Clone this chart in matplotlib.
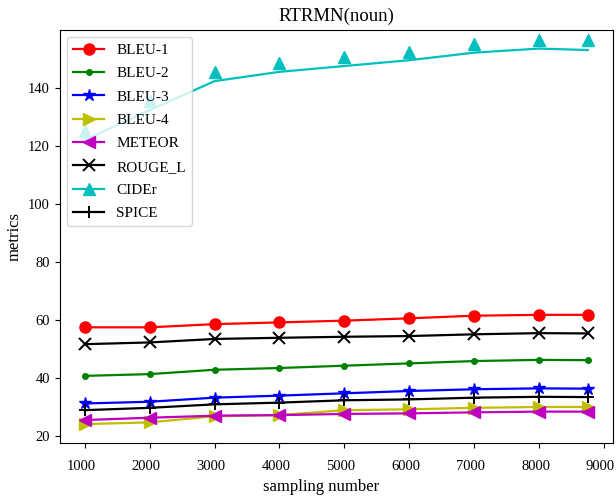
import matplotlib
matplotlib.use("Agg")
import matplotlib.pyplot as plt
import matplotlib.transforms as mtransforms
from matplotlib.lines import Line2D

plt.rcParams['font.family'] = ['Liberation Serif', 'DejaVu Serif']

# sampling numbers
x = [1000, 2000, 3000, 4000, 5000, 6000, 7000, 8000, 8750]

bleu1 = [57.5, 57.5, 58.6, 59.2, 59.8, 60.6, 61.5, 61.8, 61.8]
bleu2 = [40.8, 41.4, 42.9, 43.5, 44.3, 45.1, 45.9, 46.3, 46.2]
bleu3 = [31.3, 31.9, 33.3, 34.0, 34.8, 35.6, 36.2, 36.5, 36.4]
bleu4 = [24.2, 24.8, 26.9, 27.3, 29.0, 29.3, 29.8, 30.1, 30.1]
meteor = [25.6, 26.4, 27.1, 27.3, 27.7, 27.9, 28.25, 28.5, 28.5]
rouge_l = [51.7, 52.3, 53.5, 53.9, 54.25, 54.5, 55.1, 55.5, 55.4]
cider_line = [121.9, 132.2, 142.2, 145.4, 147.4, 149.4, 152.0, 153.4, 152.9]
cider_marks = [125.0, 135.3, 145.4, 148.5, 150.4, 152.3, 155.1, 156.5, 156.3]
spice = [29.0, 29.8, 31.0, 31.6, 32.4, 32.7, 33.3, 33.6, 33.5]

names = ['BLEU-1', 'BLEU-2', 'BLEU-3', 'BLEU-4', 'METEOR', 'ROUGE_L', 'CIDEr', 'SPICE']
xticks = [1000, 2000, 3000, 4000, 5000, 6000, 7000, 8000, 9000]
yticks = [20, 40, 60, 80, 100, 120, 140]

fig = plt.figure(figsize=(6.16, 4.99), dpi=100)
ax = fig.add_axes([0.0966, 0.1122, 0.8985, 0.8283])

lw = 1.6
ax.plot(x, bleu1, 'r-', marker='o', ms=8, lw=lw)
ax.plot(x, bleu2, 'g-', marker='.', ms=8, lw=lw)
ax.plot(x, bleu3, 'b-', marker='*', ms=9, lw=lw)
ax.plot(x, bleu4, 'y-', marker='>', ms=9, lw=lw)
ax.plot(x, meteor, 'm-', marker='<', ms=9, lw=lw)
ax.plot(x, rouge_l, 'k-', marker='x', ms=8, mew=1.4, lw=lw)
ax.plot(x, cider_line, 'c-', lw=lw)
ax.plot(x, cider_marks, 'c^', ms=8, lw=0)
ax.plot(x, spice, 'k-', marker='+', ms=9, mew=1.4, lw=lw)

handles = [
    Line2D([], [], color='r', marker='o', ms=8, lw=lw),
    Line2D([], [], color='g', marker='.', ms=8, lw=lw),
    Line2D([], [], color='b', marker='*', ms=9, lw=lw),
    Line2D([], [], color='y', marker='>', ms=9, lw=lw),
    Line2D([], [], color='m', marker='<', ms=9, lw=lw),
    Line2D([], [], color='k', marker='x', ms=8, mew=1.4, lw=lw),
    Line2D([], [], color='c', marker='^', ms=8, lw=lw),
    Line2D([], [], color='k', marker='+', ms=9, mew=1.4, lw=lw),
]
ax.legend(handles, names, loc='upper left', fontsize=11, labelspacing=0.63)

ax.set_xlim(612.5, 9137.5)
ax.set_ylim(17.7, 159.9)
ax.set_xticks(xticks)
ax.set_yticks(yticks)
ax.tick_params(labelsize=10.5)
ax.tick_params(axis='x', pad=9)

# x tick labels sit a little left of their ticks in the original
shift = mtransforms.ScaledTranslation(-3.5 / 100, 0, fig.dpi_scale_trans)
for lab in ax.get_xticklabels():
    lab.set_transform(lab.get_transform() + shift)

ax.set_xlabel('sampling number', fontsize=12)
ax.xaxis.set_label_coords(0.472, -0.088)
ax.set_ylabel('metrics', fontsize=12)
ax.set_title('RTRMN(noun)', fontsize=13.5)

plt.savefig("out.png", dpi=100)
